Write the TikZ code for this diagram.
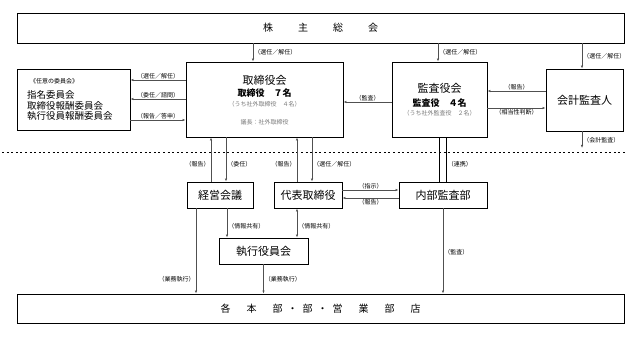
\documentclass[tikz,border=0pt]{standalone}
\usepackage{fontspec}
\setmainfont{Noto Sans CJK JP}
\usetikzlibrary{arrows.meta,calc,positioning}
\definecolor{LineGray}{HTML}{505050}
\definecolor{NoteGray}{HTML}{7A7A7A}
\tikzset{
  orgbox/.style={draw=black, line width=0.9pt, fill=white, inner sep=0pt, align=center, font=\fontsize{11}{13}\selectfont},
  orgarrow/.style={-{Latex[length=3pt,width=2.4pt]}, line width=0.6pt, draw=LineGray},
  orgboth/.style={{Latex[length=3pt,width=2.4pt]}-{Latex[length=3pt,width=2.4pt]}, line width=0.6pt, draw=LineGray},
  orgline/.style={line width=0.9pt, draw=black},
  orglabel/.style={inner sep=1pt, font=\fontsize{6}{7}\selectfont},
  orgtext/.style={inner sep=0pt, font=\fontsize{9.5}{11}\selectfont},
  orgnote/.style={inner sep=0pt, text=NoteGray, font=\fontsize{6}{7}\selectfont}
}

\begin{document}
\begin{tikzpicture}[x=1pt, y=-1pt]
  \useasboundingbox (0,0) rectangle (634,339);
  % upper boxes
  \node[orgbox, minimum width=607pt, minimum height=30pt, font=\fontsize{10}{12}\selectfont] (meeting) at (320.5,28) {株\hspace{25pt}主\hspace{25pt}総\hspace{25pt}会};
  \node[orgbox, minimum width=113pt, minimum height=61pt] (iinkai) at (73.5,99.5) {};
  \node[orgbox, minimum width=157pt, minimum height=75pt] (board) at (264.5,99.5) {};
  \node[orgbox, minimum width=95pt, minimum height=75pt] (kansa) at (439.5,99.5) {};
  \node[orgbox, minimum width=77pt, minimum height=62pt] (auditor) at (584.5,100) {会計監査人};
  % texts in boxes
  \node[orgnote, text=black, anchor=west] (iinkaititle) at (30,81) {《任意の委員会》};
  \node[orgtext, anchor=west] (shimei) at (27,95) {指名委員会};
  \node[orgtext, anchor=west] (torihoshu) at (27,105.5) {取締役報酬委員会};
  \node[orgtext, anchor=west] (shikkohoshu) at (27,116) {執行役員報酬委員会};
  \node[orgtext, font=\fontsize{11}{13}\selectfont] (boardtitle) at (264.5,80) {取締役会};
  \node[orgtext, font=\fontsize{9}{11}\selectfont\bfseries] (boardnum) at (264.5,93) {取締役　７名};
  \node[orgnote] (boardout) at (264.5,104) {（うち社外取締役　４名）};
  \node[orgnote] (boardchair) at (264.5,122) {議長：社外取締役};
  \node[orgtext, font=\fontsize{11}{13}\selectfont] (kansatitle) at (439.5,88) {監査役会};
  \node[orgtext, font=\fontsize{9}{11}\selectfont\bfseries] (kansanum) at (439.5,103) {監査役　４名};
  \node[orgnote] (kansaout) at (439.5,113) {（うち社外監査役　２名）};
  % lower boxes
  \node[orgbox, minimum width=66pt, minimum height=26pt] (keiei) at (220,195) {経営会議};
  \node[orgbox, minimum width=68pt, minimum height=26pt] (daihyo) at (308,195) {代表取締役};
  \node[orgbox, minimum width=88pt, minimum height=26pt] (naibu) at (443,195) {内部監査部};
  \node[orgbox, minimum width=89pt, minimum height=26pt] (shikko) at (263.5,251) {執行役員会};
  \node[orgbox, minimum width=607pt, minimum height=29pt, font=\fontsize{10}{12}\selectfont] (branch) at (320.5,308.5) {各\hspace{16pt}本\hspace{16pt}部\hspace{5pt}・\hspace{5pt}部\hspace{5pt}・\hspace{5pt}営\hspace{16pt}業\hspace{16pt}部\hspace{16pt}店};
  % dotted border
  \coordinate (dotleft) at (2,152);
  \coordinate (dotright) at (625,152);
  \draw[line width=0.8pt, dash pattern=on 2pt off 2.6pt] (dotleft) -- (dotright);
  % from the shareholders
  \draw[orgarrow] ([xshift=-11.5pt]board.north |- meeting.south) -- ([xshift=-11.5pt]board.north) node[midway, right, orglabel] {（選任／解任）};
  \draw[orgarrow] ([xshift=-1.5pt]kansa.north |- meeting.south) -- ([xshift=-1.5pt]kansa.north) node[midway, right, orglabel] {（選任／解任）};
  \draw[orgarrow] ([xshift=-2.5pt]auditor.north |- meeting.south) -- ([xshift=-2.5pt]auditor.north) node[midway, right, orglabel] {（選任／解任）};
  % committees
  \draw[orgarrow] ([yshift=19.5pt]board.west) -- ([yshift=19.5pt]board.west -| iinkai.east) node[midway, above, orglabel] {（選任／解任）};
  \draw[orgarrow] ([yshift=0.5pt]board.west) -- ([yshift=0.5pt]board.west -| iinkai.east) node[midway, above, orglabel] {（委任／諮問）};
  \draw[orgarrow] ([yshift=-20.5pt]board.west -| iinkai.east) -- ([yshift=-20.5pt]board.west) node[midway, above, orglabel] {（報告／答申）};
  % audit
  \draw[orgarrow] ([yshift=-2.5pt]kansa.west) -- ([yshift=-2.5pt]kansa.west -| board.east) node[midway, above, orglabel] {（監査）};
  \draw[orgarrow] ([yshift=9pt]auditor.west) -- ([yshift=9pt]auditor.west -| kansa.east) node[midway, above, orglabel] {（報告）};
  \draw[orgarrow] ([yshift=-8pt]auditor.west -| kansa.east) -- ([yshift=-8pt]auditor.west) node[midway, below, orglabel] {（相当性判断）};
  \coordinate (auditend) at (582,148);
  \draw[orgarrow] ([xshift=-2.5pt]auditor.south) -- (auditend) node[pos=0.55, right, orglabel] {（会計監査）};
  % board and executives
  \draw[orgarrow] ([xshift=-9pt]keiei.north) -- ([xshift=-9pt]keiei.north |- board.south) node[pos=0.4, left, orglabel] {（報告）};
  \draw[orgarrow] ([xshift=6pt]keiei.north |- board.south) -- ([xshift=6pt]keiei.north) node[pos=0.6, right, orglabel] {（委任）};
  \draw[orgarrow] ([xshift=-11pt]daihyo.north) -- ([xshift=-11pt]daihyo.north |- board.south) node[pos=0.4, left, orglabel] {（報告）};
  \draw[orgarrow] ([xshift=4pt]daihyo.north |- board.south) -- ([xshift=4pt]daihyo.north) node[pos=0.6, right, orglabel] {（選任／解任）};
  % internal audit
  \draw[orgline] ([xshift=-3.5pt]naibu.north) -- ([xshift=-3.5pt]naibu.north |- kansa.south);
  \draw[orgline] ([xshift=3.5pt]naibu.north) -- ([xshift=3.5pt]naibu.north |- kansa.south) node[pos=0.4, right, orglabel] {（連携）};
  \draw[orgarrow] ([yshift=5pt]daihyo.east) -- ([yshift=5pt]daihyo.east -| naibu.west) node[midway, above, orglabel] {（指示）};
  \draw[orgarrow] ([yshift=-3pt]daihyo.east -| naibu.west) -- ([yshift=-3pt]daihyo.east) node[midway, below, orglabel] {（報告）};
  % execution
  \draw[orgarrow] ([xshift=7pt]keiei.south) -- ([xshift=7pt]keiei.south |- shikko.north) node[pos=0.6, right, orglabel] {（情報共有）};
  \draw[orgboth] ([xshift=-11pt]daihyo.south) -- ([xshift=-11pt]daihyo.south |- shikko.north) node[pos=0.6, right, orglabel] {（情報共有）};
  \draw[orgarrow] ([xshift=-24pt]keiei.south) -- ([xshift=-24pt]keiei.south |- branch.north) node[pos=0.83, left, orglabel] {（業務執行）};
  \draw[orgarrow] (shikko.south) -- (shikko.south |- branch.north) node[pos=0.5, right, orglabel] {（業務執行）};
  \draw[orgarrow] (naibu.south) -- (naibu.south |- branch.north) node[pos=0.52, right, orglabel] {（監査）};
\end{tikzpicture}
\end{document}
